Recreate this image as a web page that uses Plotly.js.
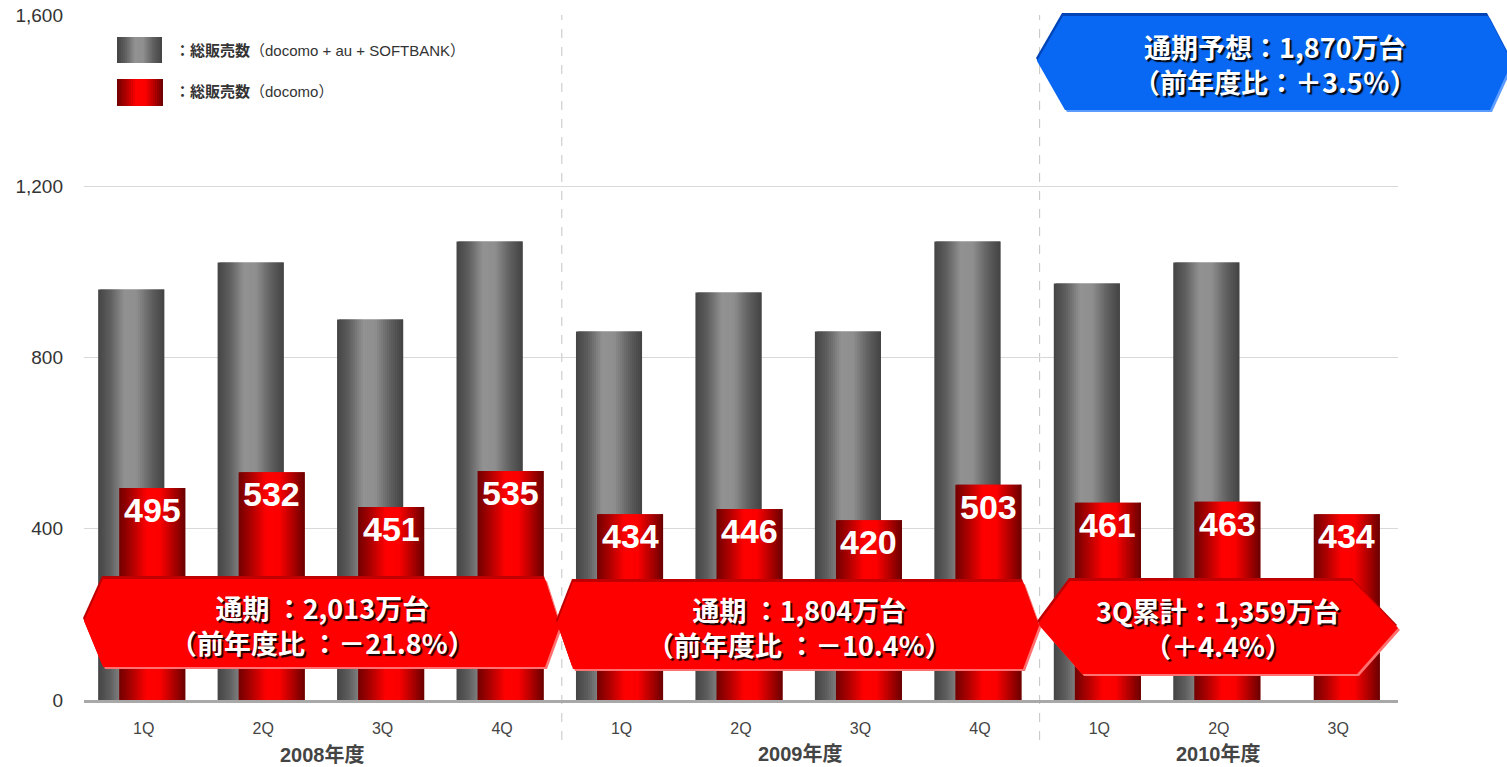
<!DOCTYPE html>
<html>
<head>
<meta charset="utf-8">
<script src="https://cdn.plot.ly/plotly-3.0.1.min.js"></script>
<style>
  html, body { margin: 0; padding: 0; background: #ffffff; }
  #chart { width: 1507px; height: 767px; }
</style>
</head>
<body>
<div id="chart"></div>
<script>
// ---------------- DATA ----------------
const quarters = ['1Q', '2Q', '3Q', '4Q', '1Q', '2Q', '3Q', '4Q', '1Q', '2Q', '3Q'];
const fiscalYears = ['2008年度', '2009年度', '2010年度'];
const quartersPerYear = [4, 4, 3];
const totalSales = [959, 1022, 889, 1071, 861, 952, 861, 1071, 973, 1022, null];   // docomo + au + SOFTBANK
const docomoSales = [495, 532, 451, 535, 434, 446, 420, 503, 461, 463, 434];        // docomo
const yTicks = [0, 400, 800, 1200, 1600];
const legendLabels = ['：総販売数', '（docomo + au + SOFTBANK）', '（docomo）'];
const yearSummaries = [
  ['通期 ：2,013万台', '（前年度比 ：－21.8%）'],
  ['通期 ：1,804万台', '（前年度比 ：－10.4%）'],
  ['3Q累計：1,359万台', '（＋4.4%）']
];
const forecastSummary = ['通期予想：1,870万台', '（前年度比：＋3.5％）'];

// ---------------- LAYOUT GEOMETRY ----------------
const W = 1507, H = 767;
const L = 84, R = 1398, T = 15, B = 700;
const px = x => (x - L) / (R - L);
const py = y => (B - y) / (B - T);
const xIdx = quarters.map((_, i) => i);
const barW = 0.553;
const grayOffset = -0.3815;
const redOffset = -0.2055;
const NSTRIP = 33;

const grayStops = [[0, '#444444'], [0.18, '#5e5e5e'], [0.4, '#929292'], [0.58, '#8f8f8f'], [0.8, '#616161'], [1, '#434343']];
const redStops = [[0, '#720000'], [0.2, '#b00000'], [0.42, '#ff0000'], [0.62, '#fb0000'], [0.82, '#b00000'], [1, '#6a0000']];

function hex2rgb(h) { return [1, 3, 5].map(i => parseInt(h.substr(i, 2), 16)); }
function grad(stops, t) {
  for (let i = 0; i < stops.length - 1; i++) {
    const [t0, c0] = stops[i], [t1, c1] = stops[i + 1];
    if (t >= t0 && t <= t1) {
      const f = (t - t0) / (t1 - t0);
      const a = hex2rgb(c0), b = hex2rgb(c1);
      const c = a.map((v, k) => Math.round(v + (b[k] - v) * f));
      return 'rgb(' + c.join(',') + ')';
    }
  }
  return stops[stops.length - 1][1];
}

const traces = [];
function addStrips(values, offset, stops, name) {
  const w = barW / NSTRIP;
  for (let s = 0; s < NSTRIP; s++) {
    traces.push({
      type: 'bar',
      name: name,
      x: xIdx,
      y: values,
      offset: offset + s * w,
      width: s < NSTRIP - 1 ? w * 2 : w,
      marker: { color: grad(stops, (s + 0.5) / NSTRIP), line: { width: 0 } },
      showlegend: false,
      hoverinfo: s === Math.floor(NSTRIP / 2) ? 'y+name' : 'skip'
    });
  }
}
addStrips(totalSales, grayOffset, grayStops, '総販売数（docomo + au + SOFTBANK）');
addStrips(docomoSales, redOffset, redStops, '総販売数（docomo）');

// ---------------- SHAPES ----------------
const shapes = [];
function polyPath(pts, dx, dy) {
  return 'M ' + pts.map(p => px(p[0] + dx).toFixed(5) + ',' + py(p[1] + dy).toFixed(5)).join(' L ') + ' Z';
}
function banner(pts, fill, dark, light) {
  shapes.push({ type: 'path', xref: 'paper', yref: 'paper', path: polyPath(pts, 2, 2), fillcolor: light, line: { width: 0 }, layer: 'above' });
  shapes.push({ type: 'path', xref: 'paper', yref: 'paper', path: polyPath(pts, -1, -3), fillcolor: dark, line: { width: 0 }, layer: 'above' });
  shapes.push({ type: 'path', xref: 'paper', yref: 'paper', path: polyPath(pts, 0, 0), fillcolor: fill, line: { width: 0 }, layer: 'above' });
}

// year separators (dashed)
let acc = 0;
const groupCenters = [];
quartersPerYear.forEach((n, g) => {
  groupCenters.push(acc + (n - 1) / 2);
  acc += n;
  if (g < quartersPerYear.length - 1) {
    shapes.push({ type: 'line', xref: 'x', yref: 'paper', x0: acc - 0.5, x1: acc - 0.5, y0: py(740), y1: 1,
      line: { color: '#c4c4c4', width: 1, dash: 'dash' }, layer: 'below' });
  }
});

const bannerGeo = [
  { pts: [[84, 621], [103, 579], [545, 579], [560, 626], [545, 667], [103, 667]], cx: 322, cy: 625 },
  { pts: [[557, 623], [573, 582], [1023, 582], [1039, 626], [1023, 669], [573, 669]], cx: 799, cy: 627 },
  { pts: [[1038, 624], [1070, 581], [1353, 581], [1398, 628], [1357, 674], [1082, 674]], cx: 1218, cy: 628 }
];
bannerGeo.forEach(b => banner(b.pts, '#ff0000', '#c00000', '#ff7070'));
const blueGeo = { pts: [[1037, 61], [1063, 16], [1488, 16], [1512, 62], [1490, 110], [1065, 110]], cx: 1275, cy: 64 };
banner(blueGeo.pts, '#0868f4', '#0045b8', '#5c9cff');

// legend swatches
const swatches = [
  { x0: 117, x1: 162, y0: 37, y1: 63, stops: grayStops },
  { x0: 117, x1: 163, y0: 79, y1: 106, stops: redStops }
];
swatches.forEach(sw => {
  const n = 23, w = (sw.x1 - sw.x0) / n;
  for (let s = 0; s < n; s++) {
    shapes.push({ type: 'rect', xref: 'paper', yref: 'paper',
      x0: px(sw.x0 + s * w), x1: px(sw.x0 + (s + 1) * w + (s < n - 1 ? 0.8 : 0)),
      y0: py(sw.y1), y1: py(sw.y0),
      fillcolor: grad(sw.stops, (s + 0.5) / n), line: { width: 0 }, layer: 'above' });
  }
});

// ---------------- ANNOTATIONS ----------------
const annotations = [];
// value labels on docomo bars
docomoSales.forEach((v, i) => {
  annotations.push({ x: i + redOffset + barW / 2, y: v, xref: 'x', yref: 'y', text: String(v),
    showarrow: false, xanchor: 'center', yanchor: 'middle', yshift: -22,
    font: { family: 'Liberation Sans, Arial, sans-serif', size: 34, color: '#ffffff', weight: 700 } });
});
// banner texts
const bannerFont = { family: 'Noto Sans CJK JP, sans-serif', size: 27, color: '#ffffff', weight: 700, shadow: '2px 2px 1px rgba(0,0,0,0.9)' };
bannerGeo.forEach((b, g) => {
  annotations.push({ x: px(b.cx), y: py(b.cy), xref: 'paper', yref: 'paper', text: yearSummaries[g].join('<br>'),
    showarrow: false, xanchor: 'center', yanchor: 'middle', align: 'center', font: bannerFont });
});
annotations.push({ x: px(blueGeo.cx), y: py(blueGeo.cy), xref: 'paper', yref: 'paper', text: forecastSummary.join('<br>'),
  showarrow: false, xanchor: 'center', yanchor: 'middle', align: 'center', font: bannerFont });
// fiscal year group labels
const groupLabelY = [755, 754, 754];
fiscalYears.forEach((fy, g) => {
  annotations.push({ x: groupCenters[g], y: py(groupLabelY[g]), xref: 'x', yref: 'paper', text: fy,
    showarrow: false, xanchor: 'center', yanchor: 'middle',
    font: { family: 'Liberation Sans, Noto Sans CJK JP, sans-serif', size: 20, color: '#444444', weight: 700 } });
});
// legend texts
const legendFont = { family: 'Liberation Sans, Noto Sans CJK JP, sans-serif', size: 15, color: '#333333' };
[[50, legendLabels[1]], [92, legendLabels[2]]].forEach(([yy, t]) => {
  annotations.push({ x: px(173), y: py(yy), xref: 'paper', yref: 'paper',
    text: '<b>' + legendLabels[0] + '</b>' + t,
    showarrow: false, xanchor: 'left', yanchor: 'middle', font: legendFont });
});

// ---------------- AXES ----------------
const boundaries = quarters.map((_, i) => i - 0.5).concat([quarters.length - 0.5]);
const xRange = [-0.5, quarters.length - 0.5];
const layout = {
  width: W, height: H,
  margin: { l: L, r: W - R, t: T, b: H - B },
  paper_bgcolor: '#ffffff', plot_bgcolor: '#ffffff',
  barmode: 'overlay',
  showlegend: false,
  xaxis: {
    range: xRange,
    tickmode: 'array',
    tickvals: xIdx,
    ticktext: quarters,
    ticks: '',
    showline: true, linecolor: '#a8a8a8', linewidth: 3,
    showgrid: false, zeroline: false,
    ticklabelstandoff: 12,
    tickfont: { family: 'Liberation Sans, Arial, sans-serif', size: 16, color: '#444444' },
    fixedrange: true
  },
  xaxis2: {
    overlaying: 'x',
    anchor: 'y',
    side: 'bottom',
    range: xRange,
    tickmode: 'array',
    tickvals: boundaries,
    showticklabels: false,
    ticks: 'inside', ticklen: 8, tickwidth: 2, tickcolor: '#a8a8a8',
    showline: false, showgrid: false, zeroline: false,
    fixedrange: true
  },
  yaxis: {
    range: [0, 1600],
    tickmode: 'array',
    tickvals: yTicks,
    ticktext: yTicks.map(v => v.toLocaleString('en-US')),
    showgrid: true, gridcolor: '#d9d9d9', gridwidth: 1,
    zeroline: false, showline: false, ticks: '',
    ticklabelstandoff: 20,
    tickfont: { family: 'Liberation Sans, Arial, sans-serif', size: 19, color: '#333333' },
    fixedrange: true
  },
  shapes: shapes,
  annotations: annotations
};

Plotly.newPlot('chart', traces, layout, { displayModeBar: false, staticPlot: true });
</script>
</body>
</html>
